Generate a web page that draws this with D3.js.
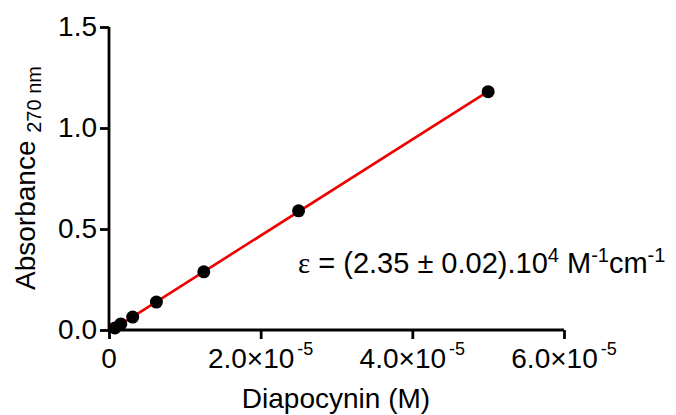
<!DOCTYPE html>
<html>
<head>
<meta charset="utf-8">
<script src="https://cdn.jsdelivr.net/npm/d3@7"></script>
<style>
  body { margin: 0; background: #fff; }
  text { font-family: "Liberation Sans", Arial, sans-serif; fill: #000; }
</style>
</head>
<body>
<svg id="chart" width="676" height="415"></svg>
<script>
//Data
var conc = [0.78e-6, 1.56e-6, 3.125e-6, 6.25e-6, 12.5e-6, 25e-6, 50e-6];//Diapocynin (M)
var absorb = [0.01, 0.03, 0.064, 0.138, 0.288, 0.59, 1.18];//Absorbance at 270 nm
var xTicks = [0, 2e-5, 4e-5, 6e-5];
var xTickMant = ["0", "2.0\u00d710", "4.0\u00d710", "6.0\u00d710"];
var xTickExp = ["", "-5", "-5", "-5"];
var yTicks = [0, 0.5, 1.0, 1.5];

var svg = d3.select("#chart");

//Scales
var x = d3.scaleLinear().domain([0, 6e-5]).range([109, 564]);
var y = d3.scaleLinear().domain([0, 1.5]).range([330, 27]);

//Least squares fit for the red line
var n = conc.length;
var mx = d3.mean(conc), my = d3.mean(absorb);
var sxy = 0, sxx = 0;
for (var i = 0; i < n; i++) {
  sxy += (conc[i] - mx) * (absorb[i] - my);
  sxx += (conc[i] - mx) * (conc[i] - mx);
}
var slope = sxy / sxx;
var intercept = my - slope * mx;

//Axes
var yAxis = d3.axisLeft(y).tickValues(yTicks).tickFormat(d3.format(".1f")).tickSize(9).tickPadding(3);
var xAxis = d3.axisBottom(x).tickValues(xTicks).tickFormat("").tickSize(9);

var gy = svg.append("g").attr("transform", "translate(109,0)").call(yAxis);
var gx = svg.append("g").attr("transform", "translate(0,330)").call(xAxis);

[gx, gy].forEach(function(g) {
  g.select(".domain").attr("stroke", "#000").attr("stroke-width", 2.8);
  g.selectAll(".tick line").attr("stroke", "#000").attr("stroke-width", 2.8);
});
gy.select(".domain").attr("d", "M0," + y(1.5) + "V" + y(0));
gx.select(".domain").attr("d", "M" + x(0) + ",0H" + x(6e-5));
gy.selectAll(".tick text").attr("font-size", 28).attr("font-family", "Liberation Sans, Arial, sans-serif").attr("fill", "#000");

//x tick labels with superscript exponent
xTicks.forEach(function(t, i) {
  var lab = svg.append("text")
    .attr("x", x(t))
    .attr("y", 368)
    .attr("text-anchor", "middle")
    .attr("font-size", 28);
  lab.append("tspan").text(xTickMant[i]);
  if (xTickExp[i]) {
    lab.append("tspan").attr("font-size", 18).attr("dy", -13).attr("dx", 3).text(xTickExp[i]);
  }
});

//Fit line
svg.append("line")
  .attr("x1", x(d3.min(conc))).attr("y1", y(slope * d3.min(conc) + intercept))
  .attr("x2", x(d3.max(conc))).attr("y2", y(slope * d3.max(conc) + intercept))
  .attr("stroke", "#ee0000")
  .attr("stroke-width", 2.6);

//Points
svg.selectAll("circle.pt")
  .data(conc)
  .enter().append("circle")
  .attr("class", "pt")
  .attr("cx", function(d) { return x(d); })
  .attr("cy", function(d, i) { return y(absorb[i]); })
  .attr("r", 6.5)
  .attr("fill", "#000");

//Axis titles
svg.append("text")
  .attr("x", 336).attr("y", 408)
  .attr("text-anchor", "middle")
  .attr("font-size", 28)
  .text("Diapocynin (M)");

var yt = svg.append("text")
  .attr("transform", "translate(35,178) rotate(-90)")
  .attr("text-anchor", "middle")
  .attr("font-size", 28);
yt.append("tspan").text("Absorbance ");
yt.append("tspan").attr("font-size", 20).attr("dy", 6).text("270 nm");

//Extinction coefficient annotation
var ann = svg.append("text")
  .attr("x", 298).attr("y", 273)
  .attr("font-size", 29);
ann.append("tspan").attr("font-family", "Liberation Serif, Times New Roman, serif").text("\u03b5");
ann.append("tspan").text(" = (2.35 \u00b1 0.02).10");
ann.append("tspan").attr("font-size", 20).attr("dy", -11).text("4");
ann.append("tspan").attr("dy", 11).text(" M");
ann.append("tspan").attr("font-size", 20).attr("dy", -11).text("-1");
ann.append("tspan").attr("dy", 11).text("cm");
ann.append("tspan").attr("font-size", 20).attr("dy", -11).text("-1");
</script>
</body>
</html>
